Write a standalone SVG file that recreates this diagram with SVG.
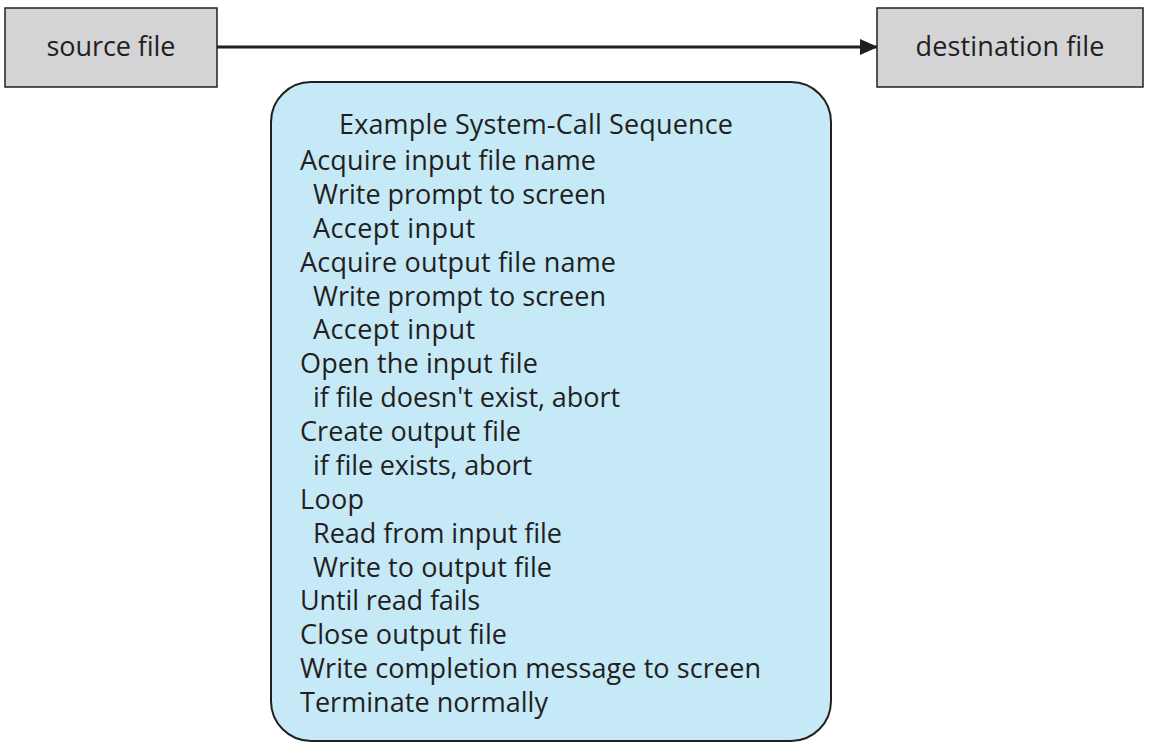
<svg xmlns="http://www.w3.org/2000/svg" width="1153" height="751" viewBox="0 0 1153 751">
<style>
.file{fill:#d4d4d6;stroke:#231f20;stroke-width:1.5}
.seq{fill:#c6e9f8;stroke:#231f20;stroke-width:2}
text{font-family:"Open Sans","Noto Sans","Liberation Sans",sans-serif;fill:#231f20;font-size:27px}
.lbl{text-anchor:middle}
</style>
<defs>
<marker id="ah" markerWidth="18" markerHeight="16" refX="17" refY="8" orient="auto" markerUnits="userSpaceOnUse">
<path d="M0,0 L18,8 L0,16 Z" fill="#231f20"/>
</marker>
</defs>
<g id="connectors">
<line x1="217" y1="47" x2="877" y2="47" stroke="#231f20" stroke-width="3" marker-end="url(#ah)"/>
</g>
<g id="source">
<rect class="file" x="5" y="8" width="212" height="79"/>
<text class="lbl" x="111" y="56" textLength="129">source file</text>
</g>
<g id="destination">
<rect class="file" x="877" y="8" width="266" height="79"/>
<text class="lbl" x="1010" y="56" textLength="189">destination file</text>
</g>
<g id="sequence">
<rect class="seq" x="271" y="82" width="560" height="659" rx="40" ry="40"/>
<text x="339" y="134" textLength="394">Example System-Call Sequence</text>
<text x="300" y="170" textLength="296">Acquire input file name</text>
<text x="313" y="204" textLength="293">Write prompt to screen</text>
<text x="313" y="238" textLength="162">Accept input</text>
<text x="300" y="272" textLength="316">Acquire output file name</text>
<text x="313" y="306" textLength="293">Write prompt to screen</text>
<text x="313" y="339" textLength="162">Accept input</text>
<text x="300" y="373" textLength="238">Open the input file</text>
<text x="313" y="407" textLength="307">if file doesn't exist, abort</text>
<text x="300" y="441" textLength="221">Create output file</text>
<text x="313" y="475" textLength="219">if file exists, abort</text>
<text x="300" y="509" textLength="64">Loop</text>
<text x="313" y="543" textLength="249">Read from input file</text>
<text x="313" y="577" textLength="239">Write to output file</text>
<text x="300" y="610" textLength="180">Until read fails</text>
<text x="300" y="644" textLength="207">Close output file</text>
<text x="300" y="678" textLength="461">Write completion message to screen</text>
<text x="300" y="712" textLength="248">Terminate normally</text>
</g>
</svg>
